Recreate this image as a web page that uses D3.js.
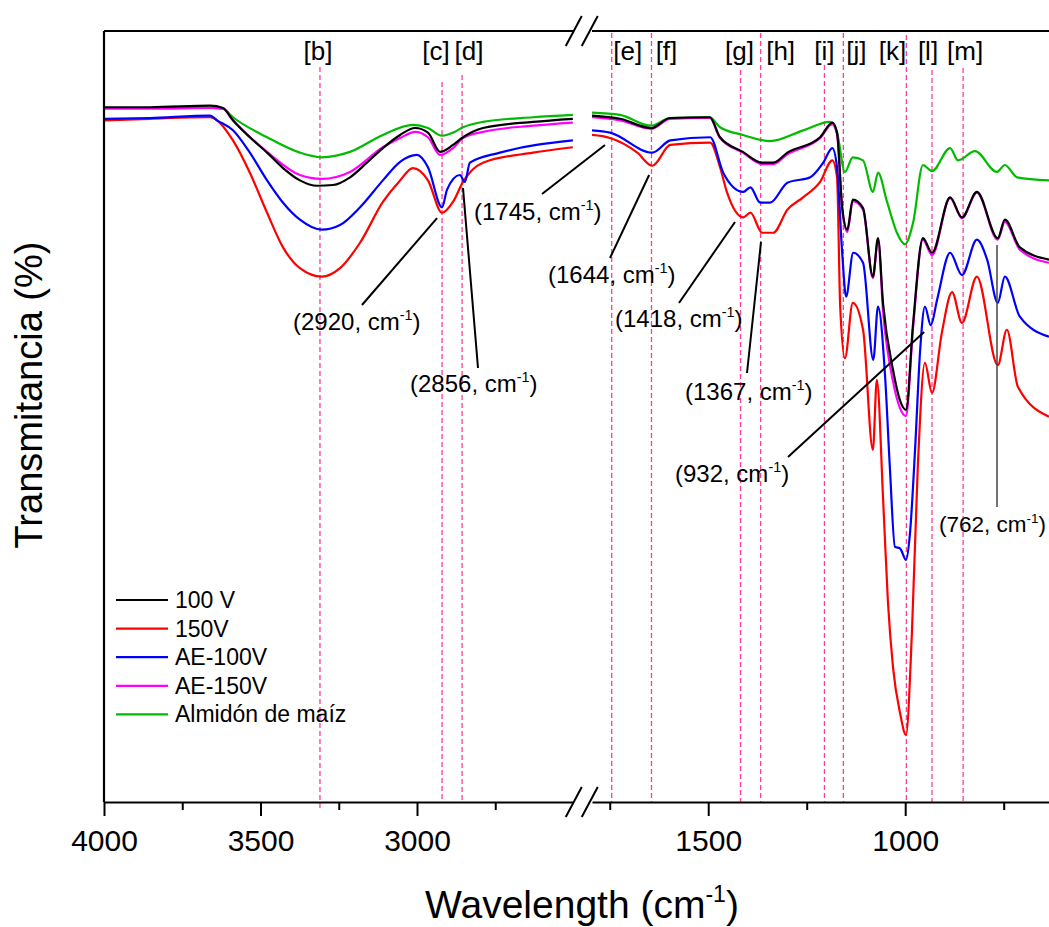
<!DOCTYPE html>
<html>
<head>
<meta charset="utf-8">
<script src="https://cdn.jsdelivr.net/npm/d3@7"></script>
<style>
  body { margin: 0; background: #fff; }
  svg { display: block; font-family: "Liberation Sans", Arial, sans-serif; }
</style>
</head>
<body>
<svg id="chart" width="1049" height="927"></svg>
<script>
// FTIR spectra: [wavenumber (cm-1), transmittance (%)]
const spectrum100V = [
  [4000,90.1],[3853,90.1],[3661,90.3],[3620,90.0],[3588,88.4],[3534,86.2],[3479,84.2],[3428,82.2],
  [3374,80.6],[3319,79.9],[3268,80.0],[3214,81.0],[3160,82.9],[3109,84.8],[3054,86.5],[3006,87.4],
  [2965,86.8],[2926,84.3],[2885,85.2],[2853,86.2],[2789,87.4],[2629,88.2],[2502,88.6],
  [1795,89.0],[1724,88.6],[1645,87.4],[1597,88.7],[1496,88.8],[1470,86.2],[1412,84.3],[1363,82.9],
  [1335,82.9],[1299,84.2],[1216,86.2],[1185,88.1],[1173,86.8],[1160,77.1],[1147,74.2],[1133,78.1],
  [1107,77.0],[1082,68.1],[1069,73.1],[1056,64.5],[1031,56.0],[1013,52.0],[998,50.8],[980,62.0],
  [955,73.1],[932,71.2],[886,78.4],[856,75.8],[818,79.1],[765,73.1],[747,75.5],[709,71.9],[635,70.3]
];
const spectrum150V = [
  [4000,88.4],[3853,88.6],[3661,88.8],[3639,88.4],[3588,85.8],[3534,81.6],[3479,76.4],[3428,71.9],
  [3374,69.2],[3304,68.1],[3246,69.2],[3182,72.5],[3109,77.8],[3054,80.6],[3013,82.2],[2965,80.6],
  [2920,76.4],[2885,77.8],[2853,80.4],[2789,82.9],[2629,84.2],[2502,84.9],
  [1795,86.5],[1749,86.1],[1680,84.2],[1642,82.5],[1596,85.2],[1495,85.5],[1470,82.3],[1452,79.0],
  [1411,75.8],[1393,76.4],[1363,73.8],[1335,73.8],[1299,76.8],[1259,78.4],[1216,80.4],[1185,83.2],
  [1173,81.0],[1165,64.2],[1153,57.5],[1133,64.7],[1107,61.2],[1082,45.6],[1072,54.7],[1056,39.1],
  [1044,26.0],[1031,17.4],[1013,11.4],[998,8.6],[983,21.8],[968,43.4],[950,56.9],[932,53.0],
  [907,60.8],[881,66.1],[856,62.1],[818,68.1],[765,56.6],[742,61.2],[714,53.8],[635,49.9]
];
const spectrumAE100V = [
  [4000,88.6],[3853,88.7],[3661,89.0],[3639,88.4],[3588,87.1],[3534,84.2],[3479,80.6],[3428,77.7],
  [3374,75.5],[3304,74.2],[3246,74.8],[3182,77.1],[3109,80.6],[3054,83.0],[3000,83.9],[2965,82.3],
  [2920,77.1],[2904,79.4],[2863,81.3],[2847,80.4],[2831,82.9],[2735,84.2],[2502,85.8],
  [1795,87.1],[1749,86.8],[1642,84.2],[1596,85.8],[1495,86.2],[1462,81.6],[1411,79.1],[1393,79.7],
  [1368,77.7],[1343,77.7],[1299,80.3],[1241,81.0],[1208,82.9],[1185,84.8],[1173,82.3],[1160,71.2],
  [1150,65.5],[1132,71.2],[1107,69.9],[1081,57.3],[1069,64.2],[1051,55.1],[1039,43.4],[1026,33.0],
  [1013,32.8],[998,31.3],[988,34.7],[975,45.6],[962,58.6],[950,64.2],[935,61.8],[919,65.1],
  [886,71.2],[856,68.3],[818,72.9],[792,70.3],[765,64.7],[747,68.1],[709,62.9],[635,60.3]
];
const spectrumAE150V = [
  [4000,89.9],[3853,89.9],[3661,90.0],[3620,89.9],[3588,88.4],[3479,84.3],[3374,81.3],[3304,80.8],
  [3214,81.7],[3109,84.9],[3054,86.1],[3006,86.9],[2965,86.2],[2926,83.9],[2885,84.8],[2853,86.1],
  [2789,86.9],[2629,87.7],[2502,88.1],
  [1795,88.8],[1724,88.4],[1645,87.3],[1597,88.6],[1496,88.7],[1470,86.1],[1412,84.2],[1363,82.7],
  [1335,82.7],[1299,84.0],[1216,86.1],[1185,87.9],[1173,86.6],[1160,77.0],[1147,73.9],[1133,77.9],
  [1107,76.8],[1082,67.9],[1069,72.9],[1056,63.5],[1031,54.5],[1013,51.0],[998,50.0],[980,61.5],
  [955,72.9],[932,70.9],[886,78.3],[856,75.7],[818,79.0],[765,72.9],[747,75.2],[709,71.6],[635,69.9]
];
const spectrumStarch = [
  [4000,90.0],[3853,90.0],[3693,90.1],[3620,89.9],[3588,88.8],[3479,86.2],[3374,84.2],[3304,83.6],
  [3214,84.3],[3109,86.5],[3013,87.8],[2965,87.4],[2920,86.4],[2885,86.8],[2853,87.5],[2789,88.2],
  [2629,88.8],[2502,89.1],
  [1795,89.4],[1724,89.1],[1645,87.7],[1597,88.7],[1496,88.8],[1470,87.5],[1412,86.5],[1343,85.7],
  [1259,87.1],[1191,88.2],[1173,86.8],[1153,81.7],[1133,83.6],[1107,83.2],[1082,79.1],[1069,81.6],
  [1046,77.8],[1021,73.8],[1001,72.3],[980,75.1],[955,82.6],[932,81.8],[886,84.8],[866,83.2],
  [823,84.4],[767,81.7],[747,82.6],[716,81.0],[635,80.6]
];

const seriesNames = ["100 V", "150V", "AE-100V", "AE-150V", "Almidón de maíz"];
const seriesData = [spectrum100V, spectrum150V, spectrumAE100V, spectrumAE150V, spectrumStarch];
const seriesColors = ["#000000", "#ff0000", "#0000ff", "#ff00ff", "#00bb00"];
// draw order: starch first, then AE-150V under 100 V
const drawOrder = [4, 1, 2, 3, 0];

// marked bands
const bandLabels = ["[b]","[c]","[d]","[e]","[f]","[g]","[h]","[i]","[j]","[k]","[l]","[m]"];
const bandWavenumbers = [3310, 2920, 2856, 1745, 1644, 1418, 1367, 1205, 1157, 997, 932, 853];

// annotated peaks
const peakValues = [2920, 2856, 1745, 1644, 1418, 1367, 932, 762];

// axis ticks
const leftMajorTicks = [4000, 3500, 3000];
const leftMinorTicks = [3750, 3250, 2750];
const rightMajorTicks = [1500, 1000];
const rightMinorTicks = [1750, 1250, 750];

// ---- layout ----
const W = 1049, H = 927;
const plotTop = 31, plotBottom = 802, plotLeft = 104;
const xLeft = d3.scaleLinear().domain([4000, 2500]).range([plotLeft, 573.5]);
const xRight = d3.scaleLinear().domain([1795, 635]).range([592, 1049]);
const y = d3.scaleLinear().domain([0, 100]).range([801, 31]);
const xOf = wn => wn > 2000 ? xLeft(wn) : xRight(wn);

const svg = d3.select("#chart");
const pink = "#ff3d9a";

// clip regions for the two axis segments
const defs = svg.append("defs");
defs.append("clipPath").attr("id", "clipL").append("rect")
  .attr("x", xLeft.range()[0]).attr("y", 0).attr("width", xLeft.range()[1] - xLeft.range()[0]).attr("height", H);
defs.append("clipPath").attr("id", "clipR").append("rect")
  .attr("x", xRight.range()[0]).attr("y", 0).attr("width", xRight.range()[1] - xRight.range()[0]).attr("height", H);

// dashed band markers
const bandTop = [67, 82, 75, 33, 33, 70, 33, 65, 33, 35, 70, 68];
const bandLabelDx = [-2, -6, 7, 16, 15, -1, 20, 0, 13, -14, -4, 2];
const bands = svg.append("g");
bandWavenumbers.forEach((wn, i) => {
  const x = xOf(wn);
  bands.append("line")
    .attr("x1", x).attr("x2", x)
    .attr("y1", bandTop[i]).attr("y2", i === 0 ? 809 : plotBottom)
    .attr("stroke", pink).attr("stroke-width", 1.3)
    .attr("stroke-dasharray", "5,3");
  bands.append("text")
    .attr("x", x + bandLabelDx[i]).attr("y", 60)
    .attr("text-anchor", "middle")
    .attr("font-size", 26)
    .attr("fill", "#000")
    .text(bandLabels[i]);
});

// spectra
const lineL = d3.line().x(d => xLeft(d[0])).y(d => y(d[1])).curve(d3.curveMonotoneX);
const lineR = d3.line().x(d => xRight(d[0])).y(d => y(d[1])).curve(d3.curveMonotoneX);
const curves = svg.append("g");
drawOrder.forEach(i => {
  const data = seriesData[i];
  curves.append("path")
    .datum(data.filter(d => d[0] > 2000))
    .attr("clip-path", "url(#clipL)")
    .attr("d", lineL)
    .attr("fill", "none").attr("stroke", seriesColors[i]).attr("stroke-width", 2.2)
    .attr("stroke-linejoin", "round");
  curves.append("path")
    .datum(data.filter(d => d[0] < 2000))
    .attr("clip-path", "url(#clipR)")
    .attr("d", lineR)
    .attr("fill", "none").attr("stroke", seriesColors[i]).attr("stroke-width", 2.2)
    .attr("stroke-linejoin", "round");
});

// callouts: tip in data space, label anchor in pixels
const callouts = [
  { tip: [2936, 75.7], tail: [362, 305], text: [293, 330], size: 24 },
  { tip: [2853, 79.6], tail: [478, 368], text: [410, 392], size: 24 },
  { tip: [1762, 85.2], tail: [542, 194], text: [474, 220], size: 24 },
  { tip: [1650, 81.3], tail: [610, 258], text: [548, 283], size: 24 },
  { tip: [1432, 75.2], tail: [679, 303], text: [615, 327], size: 24 },
  { tip: [1366, 72.6], tail: [747, 373], text: [685, 400], size: 24 },
  { tip: [952, 60.9],  tail: [788, 457], text: [675, 482], size: 24 },
  { tip: [767, 72.2],  tail: null,       text: [939, 532], size: 22.5 }
];

function cmText(sel, x, yb, prefix, size) {
  const t = sel.append("text").attr("x", x).attr("y", yb)
    .attr("font-size", size).attr("fill", "#000");
  t.append("tspan").text(prefix + "cm");
  const up = size * 0.42;
  t.append("tspan").attr("font-size", size * 0.6).attr("dy", -up).text("-1");
  t.append("tspan").attr("dy", up).text(")");
  return t;
}

const notes = svg.append("g");
callouts.forEach((c, i) => {
  const tx = xOf(c.tip[0]), ty = y(c.tip[1]);
  if (c.tail) {
    notes.append("line").attr("x1", c.tail[0]).attr("y1", c.tail[1]).attr("x2", tx).attr("y2", ty)
      .attr("stroke", "#000").attr("stroke-width", 2);
  } else {
    notes.append("line").attr("x1", tx).attr("y1", ty).attr("x2", tx).attr("y2", 507)
      .attr("stroke", "#444").attr("stroke-width", 1.5);
  }
  cmText(notes, c.text[0], c.text[1], "(" + peakValues[i] + ", ", c.size);
});

// frame and axes
const frame = svg.append("g").attr("stroke", "#000").attr("stroke-width", 2.2);
frame.append("line").attr("x1", plotLeft).attr("x2", plotLeft).attr("y1", plotTop).attr("y2", plotBottom);
[xLeft, xRight].forEach(s => {
  frame.append("line").attr("x1", s.range()[0]).attr("x2", s.range()[1]).attr("y1", plotTop).attr("y2", plotTop);
});

function drawAxis(scale, major, minor) {
  const gMaj = svg.append("g").attr("transform", `translate(0,${plotBottom})`)
    .call(d3.axisBottom(scale).tickValues(major).tickFormat(d3.format("d"))
      .tickSize(14).tickSizeOuter(0).tickPadding(14));
  gMaj.select(".domain").attr("stroke-width", 2.2);
  gMaj.selectAll(".tick line").attr("stroke-width", 2);
  gMaj.selectAll(".tick text").attr("font-size", 30).attr("font-family", "Liberation Sans, Arial, sans-serif").attr("fill", "#000");
  const gMin = svg.append("g").attr("transform", `translate(0,${plotBottom})`)
    .call(d3.axisBottom(scale).tickValues(minor).tickFormat("").tickSize(8).tickSizeOuter(0));
  gMin.select(".domain").remove();
  gMin.selectAll(".tick line").attr("stroke-width", 2);
}
drawAxis(xLeft, leftMajorTicks, leftMinorTicks);
drawAxis(xRight, rightMajorTicks, rightMinorTicks);

// axis break marks
const gapCx = (xLeft.range()[1] + xRight.range()[0]) / 2;
[plotTop, plotBottom].forEach(yy => {
  [[-17, -1], [-1, 15]].forEach(([a, b]) => {
    svg.append("line")
      .attr("x1", gapCx + a).attr("y1", yy + 15)
      .attr("x2", gapCx + b).attr("y2", yy - 15)
      .attr("stroke", "#000").attr("stroke-width", 2);
  });
});

// legend
const legend = svg.append("g");
seriesNames.forEach((name, i) => {
  const ly = 600 + i * 28.6;
  legend.append("line").attr("x1", 116).attr("x2", 168).attr("y1", ly).attr("y2", ly)
    .attr("stroke", seriesColors[i]).attr("stroke-width", 2.2);
  legend.append("text").attr("x", 175).attr("y", ly + 8).attr("font-size", 23).attr("fill", "#000").text(name);
});

// axis titles
svg.append("text")
  .attr("transform", "translate(42,395) rotate(-90)")
  .attr("text-anchor", "middle")
  .attr("font-size", 38).attr("fill", "#000")
  .text("Transmitancia (%)");

const xt = svg.append("text").attr("x", 582).attr("y", 918)
  .attr("text-anchor", "middle").attr("font-size", 39).attr("fill", "#000");
xt.append("tspan").text("Wavelength (cm");
xt.append("tspan").attr("font-size", 23).attr("dy", -16).text("-1");
xt.append("tspan").attr("dy", 16).text(")");
</script>
</body>
</html>
